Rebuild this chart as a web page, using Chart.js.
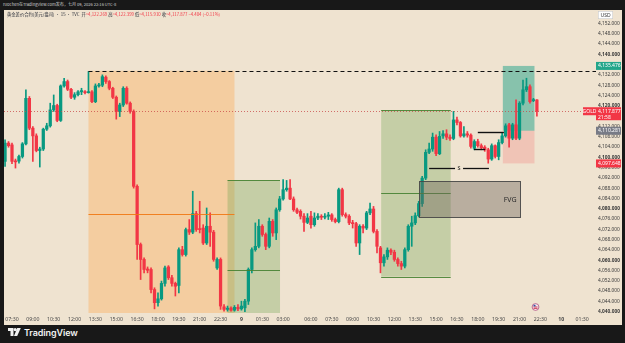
<!DOCTYPE html>
<html><head><meta charset="utf-8">
<script src="https://cdn.jsdelivr.net/npm/chart.js@4.4.1/dist/chart.umd.min.js"></script>
<style>
html,body{margin:0;padding:0;background:#181818;width:625px;height:343px;overflow:hidden;font-family:"Noto Sans","Noto Sans CJK SC",sans-serif;}
#top{position:absolute;left:3px;top:0px;font-size:4.1px;line-height:8px;color:#d0d0d0;white-space:nowrap;font-family:"Noto Sans CJK SC","Noto Sans",sans-serif;}
#panel{position:absolute;left:4px;top:10px;width:618px;height:315px;background:#efe3d0;overflow:hidden;}
#c{position:absolute;left:0;top:0;}
#legend{position:absolute;left:3px;top:1px;font-size:4.3px;line-height:7px;color:#2a2e39;white-space:nowrap;font-family:"Noto Sans CJK SC","Noto Sans",sans-serif;}
#legend .v{color:#f23645;}
#brand{position:absolute;left:8px;top:327px;height:10px;display:flex;align-items:center;color:#f2f2f2;font-size:9px;font-weight:600;font-family:"Inter","Noto Sans",sans-serif;letter-spacing:-0.1px;}
#brand svg{margin-right:3px;}
</style></head>
<body>
<div id="top">ruochen在TradingView.com发布，七月 09, 2026 22:16 UTC-8</div>
<div id="panel">
<canvas id="c" width="618" height="315"></canvas>
<div id="legend">黄金差价合约(美元/盎司) · 15 · TVC &nbsp;开<span class="v">=4,122.269</span> 高<span class="v">=4,122.399</span> 低<span class="v">=4,115.910</span> 收<span class="v">=4,117.877</span> <span class="v">−4.404 (−0.11%)</span></div>
</div>
<div id="brand"><svg width="13" height="8" viewBox="0 0 13 8"><path d="M0 0h5.5v8h-3v-5h-2.5z" fill="#f2f2f2"/><circle cx="7.2" cy="1.6" r="1.6" fill="#f2f2f2"/><path d="M9.2 0h3.6l-3.6 8h-3.2z" fill="#f2f2f2"/></svg>TradingView</div>
<script>
// ---- candle data (15-minute bars), first bar sits at slot -2 ----
const firstSlot = -2;
const opens = [4098.4,4105.5,4104.8,4098.6,4098.5,4100.3,4105.2,4122.9,4111.3,4108.3,
4102.6,4103.2,4110.9,4112.2,4118.4,4120.1,4114.3,4127.7,4129.4,4126.4,
4123.3,4124.3,4125.4,4125.3,4125.1,4125.4,4121.6,4127.7,4128.0,4131.1,
4129.4,4126.8,4123.3,4117.8,4120.3,4126.8,4121.0,4117.8,4088.7,4066.1,
4060.3,4056.6,4056.4,4048.6,4043.5,4045.0,4051.0,4057.4,4053.2,4051.0,
4050.2,4064.1,4062.2,4071.9,4070.9,4078.1,4072.2,4072.5,4066.7,4073.2,
4070.9,4057.0,4060.3,4041.9,4040.9,4041.4,4040.6,4041.7,4041.1,4041.5,
4044.1,4056.4,4064.1,4065.4,4073.2,4070.0,4065.4,4075.1,4070.6,4079.6,
4083.8,4087.4,4088.0,4083.8,4079.6,4079.0,4077.1,4074.7,4077.1,4073.8,
4076.4,4076.8,4076.7,4077.1,4077.6,4075.8,4075.0,4087.4,4077.7,4077.1,
4074.5,4074.2,4066.7,4073.2,4072.5,4078.4,4079.9,4071.2,4064.8,4059.0,
4061.3,4063.9,4063.1,4060.3,4058.7,4057.7,4064.1,4073.2,4074.5,4077.3,
4082.0,4091.9,4101.9,4103.2,4107.8,4101.4,4108.3,4109.1,4107.8,4107.3,
4114.5,4113.5,4108.3,4109.1,4108.6,4103.5,4106.1,4104.5,4103.9,4102.9,
4099.3,4104.5,4100.3,4105.7,4108.3,4112.6,4107.4,4112.6,4107.4,4121.0,
4126.2,4127.4,4122.0,4122.269];
const highs = [4106.8,4106.1,4105.5,4099.3,4100.8,4105.7,4126.2,4123.6,4111.9,4109.1,
4103.9,4111.3,4113.2,4121.0,4124.2,4120.6,4128.1,4130.7,4130.0,4126.8,
4125.1,4125.9,4126.8,4125.9,4133.3,4125.9,4128.5,4128.7,4132.0,4131.6,
4129.8,4127.2,4123.8,4121.0,4127.4,4127.4,4121.5,4118.4,4089.3,4066.7,
4060.9,4057.4,4057.0,4049.3,4047.3,4051.9,4057.7,4057.9,4054.1,4051.5,
4064.8,4065.4,4072.5,4075.8,4086.8,4079.0,4082.9,4073.8,4080.3,4078.4,
4071.6,4060.9,4060.9,4042.8,4042.2,4041.9,4042.4,4042.8,4044.1,4044.8,
4057.0,4064.8,4074.5,4075.8,4073.8,4070.6,4076.4,4075.8,4080.3,4084.8,
4091.3,4091.0,4091.3,4084.6,4080.3,4079.6,4078.1,4078.1,4079.0,4078.4,
4078.1,4077.7,4078.1,4078.6,4078.1,4076.4,4088.0,4088.0,4078.4,4077.7,
4075.5,4074.7,4073.8,4073.8,4079.0,4082.2,4080.9,4071.9,4065.4,4062.2,
4064.8,4064.4,4063.9,4060.9,4059.6,4064.8,4073.8,4077.1,4078.4,4082.9,
4092.6,4102.9,4105.5,4109.4,4108.7,4110.0,4110.4,4110.7,4108.7,4117.8,
4115.6,4113.9,4111.9,4110.0,4109.1,4106.8,4107.0,4105.2,4104.5,4103.5,
4105.2,4104.8,4106.8,4109.4,4113.0,4113.2,4113.2,4122.3,4121.6,4130.0,
4130.7,4128.1,4122.9,4122.399];
const lows = [4096.4,4103.9,4097.5,4095.8,4097.7,4099.7,4104.8,4110.7,4098.4,4102.1,
4096.2,4102.6,4110.4,4111.7,4117.8,4113.8,4113.9,4127.2,4125.9,4122.8,
4122.5,4123.8,4124.3,4124.6,4124.9,4121.2,4121.2,4127.2,4127.4,4128.7,
4126.2,4122.8,4114.8,4115.8,4119.7,4120.6,4117.1,4088.0,4060.3,4052.5,
4055.1,4055.1,4047.3,4041.1,4042.2,4044.5,4049.9,4052.5,4049.9,4046.1,
4047.3,4061.6,4061.6,4070.0,4070.3,4071.2,4070.6,4066.1,4066.1,4065.4,
4059.6,4056.4,4040.9,4040.2,4040.2,4040.2,4040.2,4040.4,4040.6,4040.0,
4042.8,4055.1,4063.5,4064.8,4069.3,4064.1,4064.8,4069.3,4068.0,4079.0,
4083.3,4086.8,4083.5,4079.0,4078.1,4076.0,4071.2,4074.2,4072.5,4073.2,
4075.8,4075.8,4076.0,4075.8,4075.1,4074.5,4074.5,4077.1,4076.4,4073.8,
4072.5,4065.4,4062.2,4070.6,4071.9,4077.7,4070.6,4062.8,4055.1,4057.7,
4060.3,4062.2,4059.6,4057.7,4056.4,4057.0,4063.5,4065.4,4073.8,4076.8,
4080.9,4091.3,4101.4,4102.3,4100.6,4101.0,4107.3,4106.8,4106.5,4106.8,
4112.6,4107.8,4107.8,4107.8,4103.5,4102.9,4103.9,4102.9,4102.3,4097.7,
4098.8,4099.7,4099.0,4105.2,4107.8,4103.9,4106.8,4106.8,4106.8,4120.3,
4125.5,4121.0,4121.6,4115.910];
const closes = [4105.5,4104.5,4098.4,4098.2,4100.3,4105.2,4122.9,4111.3,4108.3,4102.6,
4103.2,4110.9,4112.2,4118.4,4120.1,4114.3,4127.7,4129.4,4126.4,4123.3,
4124.3,4125.4,4125.9,4125.1,4125.4,4121.6,4127.7,4128.1,4131.3,4129.4,
4126.8,4123.3,4117.8,4120.3,4126.8,4121.0,4117.8,4088.7,4066.1,4060.3,
4056.4,4056.1,4048.6,4043.5,4045.0,4051.0,4057.0,4053.2,4051.0,4049.9,
4064.1,4062.2,4071.9,4070.9,4078.1,4071.9,4071.9,4066.7,4073.2,4070.9,
4060.3,4060.3,4042.2,4040.9,4041.4,4040.6,4041.7,4041.1,4042.2,4044.1,
4056.4,4064.1,4065.4,4073.2,4070.0,4065.4,4075.1,4070.6,4079.6,4083.8,
4087.4,4088.0,4083.8,4079.6,4078.6,4077.1,4074.7,4076.4,4073.8,4076.4,
4077.1,4076.7,4077.1,4077.6,4075.8,4075.0,4087.4,4077.7,4077.1,4074.5,
4074.2,4066.7,4073.2,4072.5,4078.4,4079.9,4071.2,4065.4,4059.0,4061.3,
4063.9,4063.1,4060.3,4058.7,4057.7,4064.1,4073.2,4074.5,4077.3,4082.0,
4091.9,4101.9,4103.2,4107.8,4101.4,4108.1,4109.1,4107.8,4107.3,4114.5,
4113.5,4108.3,4109.1,4108.6,4104.2,4106.1,4104.5,4103.7,4102.9,4099.3,
4104.5,4100.3,4105.7,4108.3,4112.2,4107.4,4112.6,4107.4,4121.0,4126.2,
4127.4,4121.6,4122.3,4117.877];

// ---- axis labels ----
const timeTickSlots = [0,6,12,18,24,30,36,42,48,54,60,66,72,78,86,92,98,104,110,116,122,128,134,140,146,152,158,164];
const timeTickLabels = ['07:30','09:00','10:30','12:00','13:30','15:00','16:30','18:00','19:30','21:00','22:30','9','01:30','03:00','06:00','07:30','09:00','10:30','12:00','13:30','15:00','16:30','18:00','19:30','21:00','22:30','10','01:30'];
const priceTicks = [4040,4044,4048,4052,4056,4060,4064,4068,4072,4076,4080,4084,4088,4092,4096,4100,4104,4108,4112,4116,4120,4124,4128,4132,4136,4140,4144,4148,4152];

// ---- drawings (in slot / price units) ----
const orangeZone = {from:22, to:64, top:4133.6, bottom:4020, mid:4077.8};
const greenZone1 = {from:62, to:77.1, top:4091.1, bottom:4020, mid:4056.2};
const greenZone2 = {from:106.2, to:126.2, top:4118.3, bottom:4053.6, mid:4086.0};
const fvgZone = {from:117.2, to:146.3, top:4090.8, bottom:4076.7};
const longPosition = {from:141.2, to:150.3, target:4135.476, entry:4110.3, stop:4097.6};
const dashedLevel = {from:22, price:4133.6};
const sLevel = {from:120, to:137.2, price:4095.9};
const blackLevels = [{from:134, to:141.5, price:4109.9},{from:132.9, to:136.1, price:4103.1}];
const lastPrice = 4117.877;

const UP = '#089981', DOWN = '#f23645';
const isUp = i => closes[i] >= opens[i];
const slots = opens.map((_, i) => firstSlot + i);

const fmt = v => v.toLocaleString('en-US', {minimumFractionDigits:3, maximumFractionDigits:3});

const drawings = {
  id: 'drawings',
  beforeDatasetsDraw(chart) {
    const {ctx, chartArea: a, scales: {x, y}} = chart;
    const X = v => x.getPixelForValue(v), Y = v => y.getPixelForValue(v);
    ctx.save();
    ctx.beginPath(); ctx.rect(a.left, a.top, a.right - a.left, a.bottom - a.top); ctx.clip();
    const box = (z, top, bottom, fill) => { ctx.fillStyle = fill; ctx.fillRect(X(z.from), Y(top), X(z.to) - X(z.from), Y(bottom) - Y(top)); };
    box(orangeZone, orangeZone.top, orangeZone.bottom, 'rgba(255,158,60,0.32)');
    box(greenZone1, greenZone1.top, greenZone1.bottom, 'rgba(100,160,70,0.30)');
    box(greenZone2, greenZone2.top, greenZone2.bottom, 'rgba(100,160,70,0.30)');
    box(longPosition, longPosition.target, longPosition.entry, 'rgba(8,153,129,0.45)');
    box(longPosition, longPosition.entry, longPosition.stop, 'rgba(242,54,69,0.18)');
    ctx.restore();
  },
  afterDatasetsDraw(chart) {
    const {ctx, chartArea: a, scales: {x, y}} = chart;
    const X = v => x.getPixelForValue(v), Y = v => Math.round(y.getPixelForValue(v)) + 0.5;
    ctx.save();
    ctx.beginPath(); ctx.rect(a.left, a.top, a.right - a.left, a.bottom - a.top); ctx.clip();
    const hline = (x0, x1, yv, color, w, dash) => {
      ctx.beginPath(); ctx.setLineDash(dash || []); ctx.strokeStyle = color; ctx.lineWidth = w;
      ctx.moveTo(x0, yv); ctx.lineTo(x1, yv); ctx.stroke(); ctx.setLineDash([]);
    };
    hline(X(orangeZone.from), X(orangeZone.to), Y(orangeZone.mid), 'rgba(240,120,20,0.9)', 1);
    const gl = 'rgba(70,130,50,0.9)';
    hline(X(greenZone1.from), X(greenZone1.to), Y(greenZone1.top), gl, 1);
    hline(X(greenZone1.from), X(greenZone1.to), Y(greenZone1.mid), gl, 1);
    hline(X(greenZone2.from), X(greenZone2.to), Y(greenZone2.top), gl, 1);
    hline(X(greenZone2.from), X(greenZone2.to), Y(greenZone2.mid), gl, 1);
    hline(X(greenZone2.from), X(greenZone2.to), Y(greenZone2.bottom), gl, 1);
    hline(X(dashedLevel.from), a.right, Y(dashedLevel.price), '#111', 1, [4, 3]);
    hline(a.left, a.right, Y(lastPrice), 'rgba(200,70,70,0.75)', 1, [1, 2]);
    const fx0 = X(fvgZone.from), fx1 = X(fvgZone.to), fy0 = Y(fvgZone.top), fy1 = Y(fvgZone.bottom);
    ctx.fillStyle = 'rgba(110,100,90,0.42)';
    ctx.fillRect(fx0, fy0, fx1 - fx0, fy1 - fy0);
    ctx.strokeStyle = 'rgba(70,70,70,0.9)'; ctx.lineWidth = 1;
    ctx.strokeRect(Math.round(fx0) + 0.5, fy0, Math.round(fx1 - fx0), fy1 - fy0);
    ctx.fillStyle = '#2a2a2a'; ctx.font = '7px "Noto Sans", sans-serif';
    ctx.textAlign = 'right'; ctx.textBaseline = 'middle';
    ctx.fillText('FVG', fx1 - 4, (fy0 + fy1) / 2);
    const sy = Y(sLevel.price), sx0 = X(sLevel.from), sx1 = X(sLevel.to), sm = (sx0 + sx1) / 2;
    hline(sx0, sm - 4, sy, '#111', 1.3);
    hline(sm + 4, sx1, sy, '#111', 1.3);
    ctx.fillStyle = '#111'; ctx.textAlign = 'center'; ctx.font = '5.5px "Noto Sans", sans-serif';
    ctx.fillText('S', sm, sy);
    blackLevels.forEach(l => hline(X(l.from), X(l.to), Y(l.price), '#111', 1.4));
    const ex = X(150.6), ey = a.bottom - 6;
    ctx.beginPath(); ctx.arc(ex, ey, 3.4, 0, Math.PI * 2); ctx.fillStyle = '#f4eef4'; ctx.fill();
    ctx.strokeStyle = '#b14a7a'; ctx.lineWidth = 0.8; ctx.stroke();
    ctx.fillStyle = '#d0304a'; ctx.fillRect(ex - 2, ey - 0.5, 4, 1); ctx.fillRect(ex - 2, ey + 1.2, 4, 0.8);
    ctx.fillStyle = '#3050a0'; ctx.fillRect(ex - 2, ey - 2.2, 2, 1.6);
    ctx.restore();
  },
  afterDraw(chart) {
    const {ctx, chartArea: a, scales: {y}, width} = chart;
    const Y = v => y.getPixelForValue(v);
    ctx.save();
    ctx.font = '5px "Noto Sans", sans-serif'; ctx.textBaseline = 'middle'; ctx.textAlign = 'left';
    const tag = (price, text, bg, extra) => {
      const yy = Y(price);
      ctx.fillStyle = bg;
      ctx.fillRect(a.right, yy - 4, width - a.right - 1, extra ? 13 : 8);
      ctx.fillStyle = '#fff';
      ctx.fillText(text, a.right + 2, yy);
      if (extra) ctx.fillText(extra, a.right + 2, yy + 6);
    };
    tag(longPosition.target, fmt(longPosition.target), '#22a68a');
    tag(longPosition.entry, '4,110.281', '#787b86');
    tag(longPosition.stop, '4,097.648', '#f23645');
    tag(lastPrice, fmt(lastPrice), '#f23645', '21:58');
    const gy = Y(lastPrice);
    ctx.fillStyle = '#f23645'; ctx.fillRect(a.right - 13, gy - 4, 13, 8);
    ctx.fillStyle = '#fff'; ctx.textAlign = 'center'; ctx.fillText('GOLD', a.right - 6.5, gy);
    ctx.fillStyle = '#ffffff'; ctx.fillRect(a.right + 2, 1, 15, 8);
    ctx.strokeStyle = '#c8c8c8'; ctx.lineWidth = 0.6; ctx.strokeRect(a.right + 2.3, 1.3, 14.4, 7.4);
    ctx.fillStyle = '#333'; ctx.fillText('USD', a.right + 9.5, 5.2);
    ctx.restore();
  }
};

Chart.defaults.font.family = '"Noto Sans", sans-serif';
new Chart(document.getElementById('c'), {
  type: 'bar',
  data: {
    datasets: [
      {
        label: 'wick',
        data: slots.map((s, i) => ({x: s, y: [lows[i], highs[i]]})),
        backgroundColor: c => isUp(c.dataIndex) ? UP : DOWN,
        barThickness: 1,
        grouped: false,
        order: 2
      },
      {
        label: 'body',
        data: slots.map((s, i) => ({x: s, y: [opens[i], closes[i]]})),
        backgroundColor: c => isUp(c.dataIndex) ? UP : DOWN,
        barThickness: 2.6,
        minBarLength: 1,
        grouped: false,
        order: 1
      }
    ]
  },
  options: {
    responsive: false,
    animation: false,
    events: [],
    layout: {padding: 0},
    plugins: {legend: {display: false}, tooltip: {enabled: false}},
    scales: {
      x: {
        type: 'linear', min: -2.3, max: 168, offset: false,
        grid: {display: false, drawTicks: false, offset: false}, border: {display: false},
        afterBuildTicks: ax => { ax.ticks = timeTickSlots.map(v => ({value: v})); },
        afterFit: s => { s.height = 12; s.paddingLeft = 0; s.paddingRight = 0; },
        ticks: {
          autoSkip: false, maxRotation: 0, padding: 3, color: '#4a4a4a',
          font: c => ({size: 5.2, weight: (c.tick && (c.tick.value === 66 || c.tick.value === 158)) ? 'bold' : 'normal'}),
          callback: v => { const k = timeTickSlots.indexOf(v); return k >= 0 ? timeTickLabels[k] : ''; }
        }
      },
      y: {
        type: 'linear', position: 'right', min: 4039.5, max: 4157.2,
        grid: {display: false, drawTicks: false}, border: {display: false},
        afterBuildTicks: ax => { ax.ticks = priceTicks.map(v => ({value: v})); },
        afterFit: s => { s.width = 26; s.paddingTop = 0; s.paddingBottom = 0; },
        ticks: {
          padding: 2, color: '#3a3a3a',
          font: c => ({size: 4.8, weight: (c.tick && c.tick.value % 20 === 0) ? 'bold' : 'normal'}),
          callback: v => fmt(v)
        }
      }
    }
  },
  plugins: [drawings]
});
</script>
</body></html>
